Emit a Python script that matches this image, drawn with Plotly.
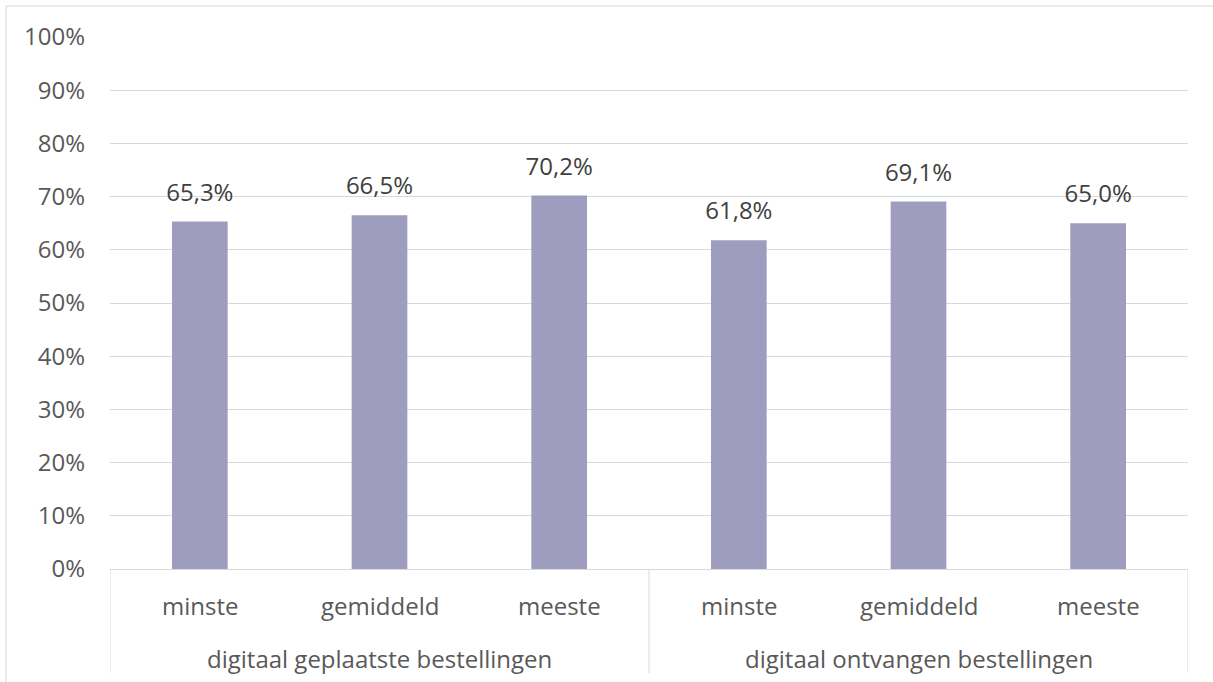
import plotly.graph_objects as go

groups = ["digitaal geplaatste bestellingen"] * 3 + ["digitaal ontvangen bestellingen"] * 3
subcats = ["minste", "gemiddeld", "meeste", "minste", "gemiddeld", "meeste"]
values = [65.3, 66.5, 70.2, 61.8, 69.1, 65.0]
labels = [f"{v:.1f}%".replace(".", ",") for v in values]
y_ticks = list(range(0, 101, 10))
y_ticktext = [f"{t}%" for t in y_ticks]

FONT = "Open Sans"
TXT = "#595959"
GRID = "#d9d9d9"
BAR = "#9e9dc0"
FS = 24

fig = go.Figure()
fig.add_trace(go.Bar(
    x=[groups, subcats], y=values, marker=dict(color=BAR, line=dict(width=0)),
    width=0.31, hoverinfo="skip",
))
fig.add_trace(go.Scatter(
    x=[groups, subcats], y=values, mode="markers+text", text=labels,
    textposition="top center", marker=dict(size=22, opacity=0),
    textfont=dict(family=FONT, size=FS, color="#404040"), hoverinfo="skip",
))

fig.update_layout(
    width=1213, height=682,
    margin=dict(l=110, r=25, t=37, b=113),
    paper_bgcolor="white", plot_bgcolor="white",
    showlegend=False,
    font=dict(family=FONT, size=FS, color=TXT),
)
fig.update_yaxes(
    range=[0, 100], tickvals=y_ticks, ticktext=y_ticktext,
    showgrid=True, gridcolor=GRID, gridwidth=1, zeroline=False,
    showline=False, ticks="", ticklabelstandoff=24,
    tickfont=dict(family=FONT, size=FS, color=TXT),
)
fig.update_xaxes(
    type="multicategory", showline=True, linecolor=GRID, linewidth=1,
    showdividers=False, showticklabels=False, ticks="",
    range=[-0.5, len(values) - 0.5],
)

# sub-category labels
for i, s in enumerate(subcats):
    fig.add_annotation(x=i, xref="x", y=-0.0677, yref="paper", text=s,
                       showarrow=False, yanchor="middle",
                       font=dict(family=FONT, size=FS, color=TXT))
# group labels and dividers
group_names = []
for g in groups:
    if g not in group_names:
        group_names.append(g)
bounds = [-0.5]
for g in group_names:
    idx = [i for i, gg in enumerate(groups) if gg == g]
    fig.add_annotation(x=(idx[0] + idx[-1]) / 2, xref="x", y=-0.1673, yref="paper",
                       text=g, showarrow=False, yanchor="middle",
                       font=dict(family=FONT, size=FS, color=TXT))
    bounds.append(idx[-1] + 0.5)
for b in bounds:
    fig.add_shape(type="line", xref="x", yref="paper", x0=b, x1=b, y0=0, y1=-0.1955,
                  line=dict(color=GRID, width=1))

fig.add_shape(type="rect", xref="paper", yref="paper",
              x0=-0.0965, x1=1.3, y0=-0.5, y1=1.0583,
              line=dict(color=GRID, width=1), fillcolor="rgba(0,0,0,0)", layer="below")
fig.write_html("out.html")
